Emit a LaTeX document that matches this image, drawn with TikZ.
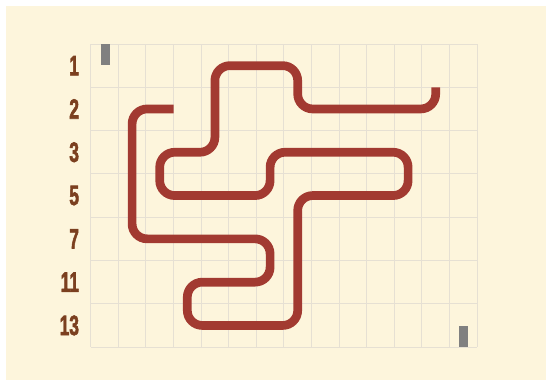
\documentclass[tikz,border=0pt]{standalone}
\usepackage{fontspec}
\newfontfamily\labfont{Liberation Sans}[BoldFeatures={FakeBold=2.5}]
\usetikzlibrary{positioning}
\definecolor{paper}{HTML}{FDF5DC}
\definecolor{gridline}{HTML}{E6E0D3}
\definecolor{snakered}{HTML}{A23A31}
\definecolor{labbrown}{HTML}{7B3F1F}
\definecolor{markgray}{HTML}{808080}
\tikzset{
  rowlab/.style   = {anchor=east, inner sep=0pt, text=labbrown, xscale=0.62,
                     font=\labfont\bfseries\fontsize{28}{28}\selectfont},
  gridl/.style    = {draw=gridline, line width=1pt},
  marker/.style   = {fill=markgray, draw=none, inner sep=0pt,
                     minimum width=9pt, minimum height=21pt},
  snakeline/.style = {draw=snakered, line width=8.7pt, rounded corners=15pt},
}

\begin{document}
\begin{tikzpicture}[x=1pt, y=-1pt]
  \useasboundingbox (0,0) rectangle (546,381);
  \fill[white] (0,0) rectangle (546,381);
  \fill[paper] (6,6) rectangle (546,380);
  \begin{scope}[shift={(90.7,44)}, x=27.6pt, y=-43.3pt]
    % grid
    \foreach \i in {0,...,14}
      \draw[gridl] (\i,0) -- (\i,7);
    \foreach \j in {0,...,7}
      \draw[gridl] (0,\j) -- (14,\j);
    % row labels
    \foreach \lab [count=\r] in {1,2,3,5,7,11,13}
      \node[rowlab] (lab\r) at (-0.42, \r-0.5) {\lab};
    % end markers
    \node[marker, anchor=north] (mstart) at (0.52,0) {};
    \node[marker, anchor=south] (mend) at (13.5,7) {};
    % the snake
    \draw[snakeline] (3,1.5) -- (1.5,1.5) -- (1.5,4.5) -- (6.5,4.5)
      -- (6.5,5.5) -- (3.5,5.5) -- (3.5,6.5) -- (7.5,6.5) -- (7.5,3.5)
      -- (11.5,3.5) -- (11.5,2.5) -- (6.5,2.5) -- (6.5,3.5) -- (2.5,3.5)
      -- (2.5,2.5) -- (4.5,2.5) -- (4.5,0.5) -- (7.5,0.5) -- (7.5,1.5)
      -- (12.5,1.5) -- (12.5,1);
  \end{scope}
\end{tikzpicture}
\end{document}
